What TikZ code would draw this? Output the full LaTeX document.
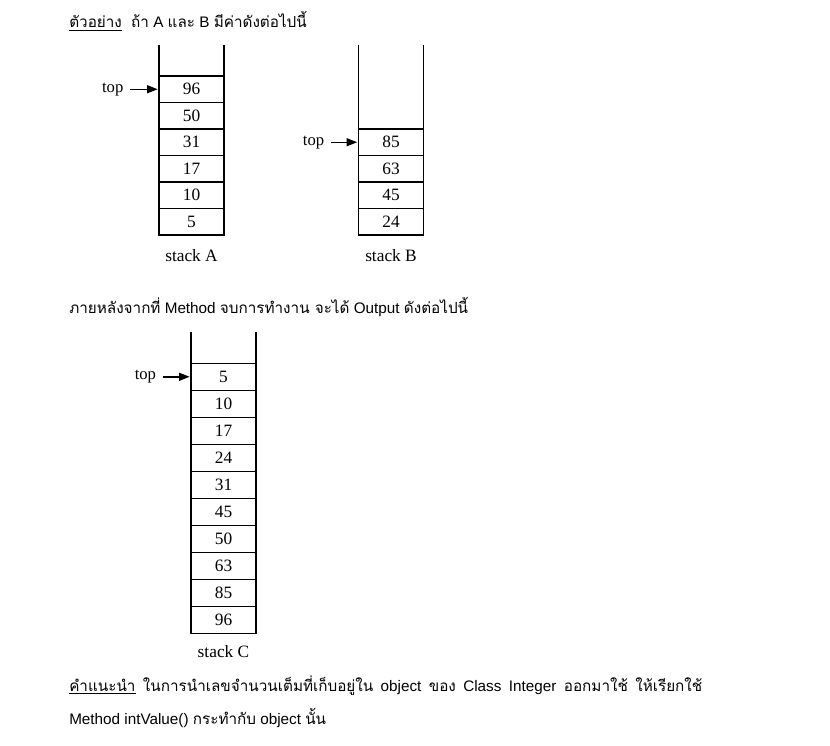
\documentclass[tikz,border=0pt]{standalone}
\usepackage{fontspec}
\setmainfont{Liberation Serif}
\newfontfamily\engfont{Liberation Sans}
\newfontfamily\thaifont[Script=Thai]{Loma}
\usetikzlibrary{positioning,arrows.meta}
\newcommand{\thai}[1]{{\thaifont #1}}

\begin{document}
\begin{tikzpicture}[x=0.75pt, y=-0.75pt, node distance=0pt,
  cell/.style = {draw, line width=0.8pt, minimum width=48.75pt, minimum height=19.875pt,
    inner sep=0pt, outer sep=0pt, font=\fontsize{13}{15}\selectfont},
  tallcell/.style = {cell, minimum height=20.25pt},
  wall/.style = {line width=0.8pt},
  toptext/.style = {inner sep=0pt, font=\fontsize{12.5}{15}\selectfont},
  pointer/.style = {line width=1.1pt, -{Triangle[length=8pt, width=6pt]}, shorten <=5pt, shorten >=1pt},
  stackname/.style = {font=\fontsize{13}{15}\selectfont},
  txt/.style = {anchor=base west, inner sep=0pt, font=\engfont\fontsize{11.45}{13}\selectfont}]
  \useasboundingbox (0,0) rectangle (830,745);

  % heading
  \node[txt] (title) at (69,28) {\thai{\underline{ตัวอย่าง}}\hspace{7pt}\thai{ถ้า} A \thai{และ} B \thai{มีค่าดังต่อไปนี้}};

  % stack A
  \node[cell] (a1) at (191.5,89.25) {96};
  \node[cell, below=of a1] (a2) {50};
  \node[cell, below=of a2] (a3) {31};
  \node[cell, below=of a3] (a4) {17};
  \node[cell, below=of a4] (a5) {10};
  \node[cell, below=of a5] (a6) {5};
  \draw[wall] (a1.north west) -- +(0,-31);
  \draw[wall] (a1.north east) -- +(0,-31);
  \node[toptext, left=26.5pt of a1] (topA) {top};
  \draw[pointer] (topA) -- (a1);
  \node[stackname, below=7pt of a6] (nameA) {stack A};

  % stack B
  \node[cell] (b1) at (391,142.25) {85};
  \node[cell, below=of b1] (b2) {63};
  \node[cell, below=of b2] (b3) {45};
  \node[cell, below=of b3] (b4) {24};
  \draw[wall] (b1.north west) -- +(0,-84);
  \draw[wall] (b1.north east) -- +(0,-84);
  \node[toptext, left=25.5pt of b1] (topB) {top};
  \draw[pointer] (topB) -- (b1);
  \node[stackname, below=7pt of b4] (nameB) {stack B};

  \node[txt] (result) at (69,313) {\thai{ภายหลังจากที่} Method \thai{จบการทำงาน จะได้} Output \thai{ดังต่อไปนี้}};

  % stack C
  \node[tallcell] (c1) at (223.5,376.8) {5};
  \node[tallcell, below=of c1] (c2) {10};
  \node[tallcell, below=of c2] (c3) {17};
  \node[tallcell, below=of c3] (c4) {24};
  \node[tallcell, below=of c4] (c5) {31};
  \node[tallcell, below=of c5] (c6) {45};
  \node[tallcell, below=of c6] (c7) {50};
  \node[tallcell, below=of c7] (c8) {63};
  \node[tallcell, below=of c8] (c9) {85};
  \node[tallcell, below=of c9] (c10) {96};
  \draw[wall] (c1.north west) -- +(0,-31);
  \draw[wall] (c1.north east) -- +(0,-31);
  \node[toptext, left=26pt of c1] (topC) {top};
  \draw[pointer] (topC) -- (c1);
  \node[stackname, below=5.5pt of c10] (nameC) {stack C};

  % hint
  \node[txt] (hint) at (69,691) {\hbox to 474.75pt{\thai{\underline{คำแนะนำ}}\hfill\thai{ในการนำเลขจำนวนเต็มที่เก็บอยู่ใน}\hfill object\hfill\thai{ของ}\hfill Class\hfill Integer\hfill\thai{ออกมาใช้}\hfill\thai{ให้เรียกใช้}}};
  \node[txt] (hint2) at (69,724) {Method intValue() \thai{กระทำกับ} object \thai{นั้น}};
\end{tikzpicture}
\end{document}
